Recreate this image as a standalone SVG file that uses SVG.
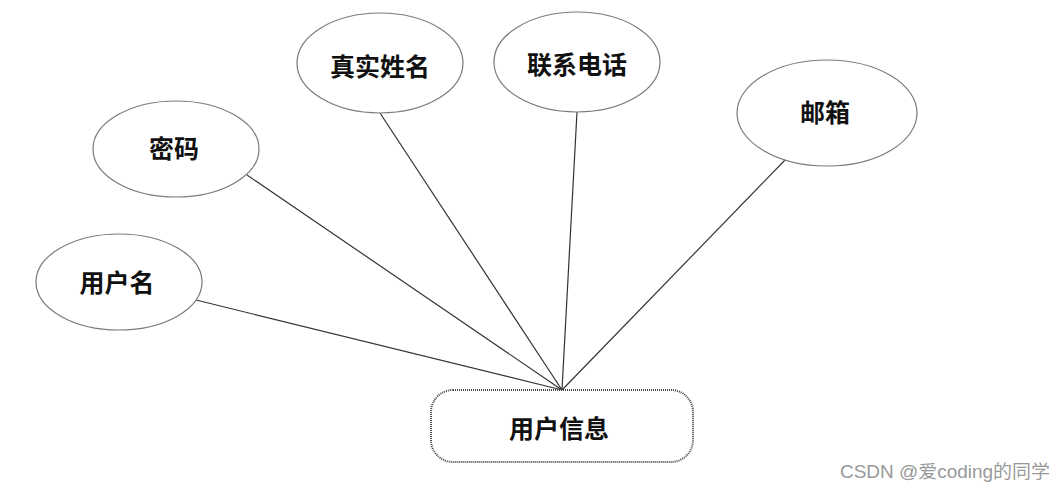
<svg xmlns="http://www.w3.org/2000/svg" width="1064" height="492" viewBox="0 0 1064 492">
<style>
.attr ellipse{fill:#fff;stroke:#7a7a7a;stroke-width:1.2}
.lbl{font-family:"Noto Sans CJK SC","Liberation Sans",sans-serif;font-size:25px;font-weight:bold;fill:#111;text-anchor:middle;dominant-baseline:central}
#edges line{stroke:#333;stroke-width:1.2}
.wm{font-family:"Liberation Sans","Noto Sans CJK SC",sans-serif;font-size:18px;fill:#999}
</style>
<rect width="1064" height="492" fill="#fff"/>
<g id="edges">
<line x1="196" y1="300" x2="562" y2="390"/>
<line x1="247" y1="175" x2="562" y2="390"/>
<line x1="380" y1="113" x2="562" y2="390"/>
<line x1="577" y1="112" x2="562" y2="390"/>
<line x1="786" y1="159" x2="562" y2="390"/>
</g>
<g id="n-username" class="attr"><ellipse cx="119" cy="282" rx="83" ry="48"/><text class="lbl" x="117" y="281">用户名</text></g>
<g id="n-password" class="attr"><ellipse cx="176" cy="149" rx="83" ry="48"/><text class="lbl" x="174" y="147">密码</text></g>
<g id="n-realname" class="attr"><ellipse cx="380" cy="63" rx="83" ry="50"/><text class="lbl" x="380" y="65">真实姓名</text></g>
<g id="n-phone" class="attr"><ellipse cx="577" cy="62" rx="83" ry="50"/><text class="lbl" x="577" y="63">联系电话</text></g>
<g id="n-email" class="attr"><ellipse cx="827" cy="113" rx="90" ry="53"/><text class="lbl" x="825" y="111">邮箱</text></g>
<g id="n-userinfo"><rect x="431" y="390" width="262" height="72" rx="22" fill="#fff" stroke="#444" stroke-width="2" stroke-dasharray="1 1"/><text class="lbl" x="559" y="427">用户信息</text></g>
<text class="wm" x="840" y="478" textLength="210" lengthAdjust="spacingAndGlyphs">CSDN @爱coding的同学</text>
</svg>
